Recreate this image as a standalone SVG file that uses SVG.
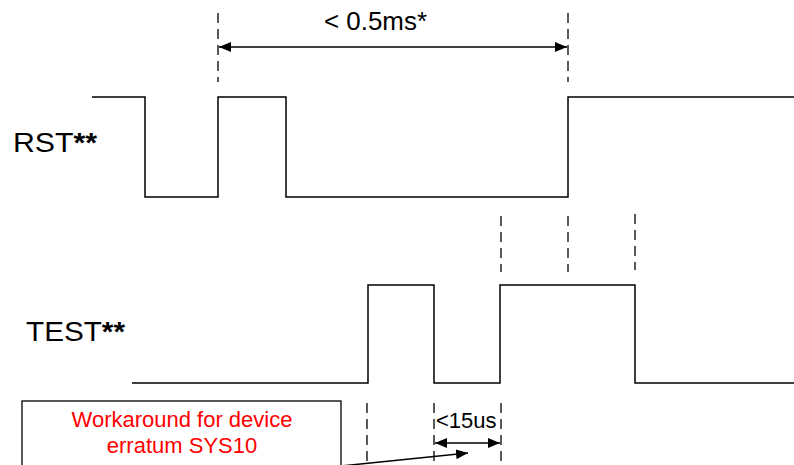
<svg xmlns="http://www.w3.org/2000/svg" width="794" height="465" viewBox="0 0 794 465">
<style>
.wave{fill:none;stroke:#000;stroke-width:1.5}
.dash{fill:none;stroke:#000;stroke-width:1.3;stroke-dasharray:10 6}
.arr{fill:none;stroke:#000;stroke-width:1.5}
.lbl{font-family:"Liberation Sans",Arial,sans-serif;fill:#000}
.red{font-family:"Liberation Sans",Arial,sans-serif;fill:#ff0000;font-size:22px;text-anchor:middle}
</style>
<defs>
<marker id="ah" viewBox="0 0 12 10" refX="12" refY="5" markerWidth="12" markerHeight="10" markerUnits="userSpaceOnUse" orient="auto-start-reverse">
<path d="M0,0 L12,5 L0,10 z" fill="#000"/>
</marker>
</defs>
<rect width="794" height="465" fill="#fff"/>
<g id="rst">
<text class="lbl" x="13" y="152" font-size="28" textLength="84" lengthAdjust="spacingAndGlyphs">RST<tspan font-weight="bold">**</tspan></text>
<path class="wave" d="M92,97 H145 V197 H218 V97 H286 V197 H568 V97 H794"/>
</g>
<g id="test">
<text class="lbl" x="26" y="341" font-size="28" textLength="99" lengthAdjust="spacingAndGlyphs">TEST<tspan font-weight="bold">**</tspan></text>
<path class="wave" d="M132,383 H368 V285 H434 V383 H500 V285 H635 V383 H794"/>
</g>
<g id="note">
<rect x="22" y="401" width="319" height="80" fill="none" stroke="#000" stroke-width="1.3"/>
<text class="red" x="182" y="427">Workaround for device</text>
<text class="red" x="182" y="453">erratum SYS10</text>
</g>
<g id="connectors">
<line class="dash" x1="218" y1="13" x2="218" y2="82"/>
<line class="dash" x1="568" y1="13" x2="568" y2="82"/>
<line class="arr" x1="219" y1="47" x2="567" y2="47" marker-start="url(#ah)" marker-end="url(#ah)"/>
<line class="dash" x1="501" y1="216" x2="501" y2="272"/>
<line class="dash" x1="568" y1="216" x2="568" y2="272"/>
<line class="dash" x1="635" y1="214" x2="635" y2="270"/>
<line class="dash" x1="367" y1="403" x2="367" y2="465"/>
<line class="dash" x1="434" y1="403" x2="434" y2="465"/>
<line class="dash" x1="501" y1="403" x2="501" y2="465"/>
<line class="arr" x1="435" y1="443" x2="500" y2="443" marker-start="url(#ah)" marker-end="url(#ah)"/>
<line class="arr" x1="341" y1="466" x2="468" y2="453" marker-end="url(#ah)"/>
</g>
<g id="labels">
<text class="lbl" x="324" y="30" font-size="25" textLength="103" lengthAdjust="spacingAndGlyphs">&lt; 0.5ms*</text>
<text class="lbl" x="436" y="428" font-size="22">&lt;15us</text>
</g>
</svg>
